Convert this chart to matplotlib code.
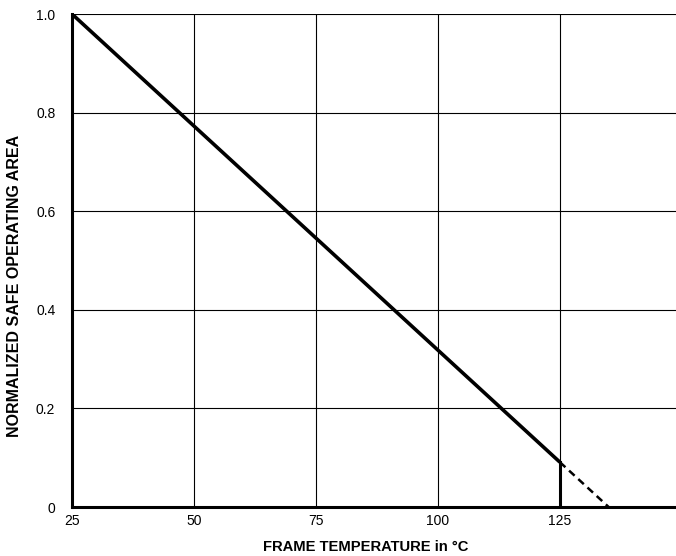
import numpy
import matplotlib
matplotlib.use('Agg')
import matplotlib.pyplot as plt

plt.rcParams['font.family'] = ['Liberation Sans', 'DejaVu Sans']

# derating curve: solid part up to 125 C, dashed extension down to zero
solid_t = [25, 125]
solid_soa = [1.0, 0.091]
dash_t = [125, 135]
dash_soa = [0.091, 0.0]
xticks = [25, 50, 75, 100, 125]
yticks = [0, 0.2, 0.4, 0.6, 0.8, 1.0]
ytick_labels = ['0', '0.2', '0.4', '0.6', '0.8', '1.0']

fig = plt.figure(figsize=(6.76, 5.56), dpi=100)
ax = fig.add_axes([0.1065, 0.0881, 0.8935, 0.8867])

ax.set_xlim(25, 148.8)
ax.set_ylim(0, 1.0)

# grid
for t in xticks[1:]:
    ax.axvline(t, color='black', lw=0.8, zorder=1)
for v in yticks[1:]:
    ax.axhline(v, color='black', lw=0.8, zorder=1)

ax.plot(solid_t, solid_soa, color='black', lw=2.6, solid_capstyle='butt', zorder=3)
ax.plot(dash_t, dash_soa, color='black', lw=1.8, ls=(0, (3, 2)), zorder=3)
ax.plot([125, 125], [0, solid_soa[-1]], color='black', lw=2.2, zorder=3)

for s in ['right', 'top']:
    ax.spines[s].set_visible(False)
ax.spines['left'].set_linewidth(2.2)
ax.spines['bottom'].set_linewidth(2.2)

ax.set_xticks(xticks)
ax.set_yticks(yticks)
ax.set_yticklabels(ytick_labels)
ax.tick_params(length=0, labelsize=10, pad=5)
ax.tick_params(axis='y', pad=12)

fig.text(0.5407, 0.016, 'FRAME TEMPERATURE in \u00b0C', ha='center', va='center',
         fontsize=10.6, fontweight='bold')
fig.text(0.0215, 0.4865, 'NORMALIZED SAFE OPERATING AREA', ha='center', va='center',
         rotation=90, fontsize=11.5, fontweight='bold')

fig.savefig('out.png', dpi=100)
